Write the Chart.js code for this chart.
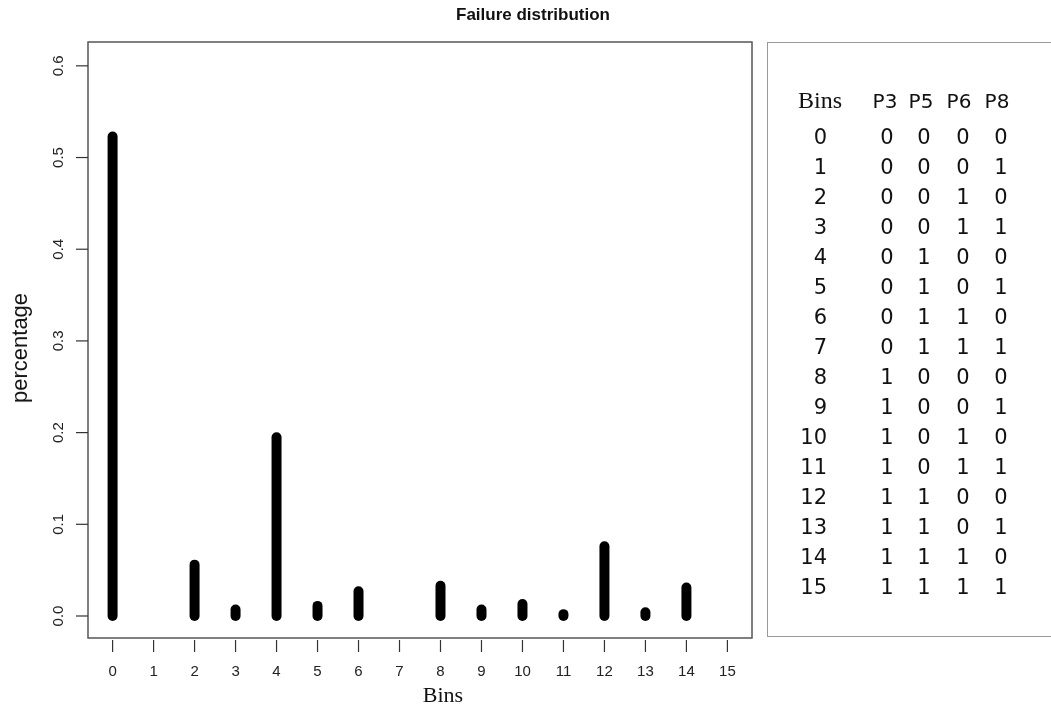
<!DOCTYPE html>
<html>
<head>
<meta charset="utf-8">
<script src="https://cdn.jsdelivr.net/npm/chart.js@4.4.1/dist/chart.umd.min.js"></script>
<style>
  html, body { margin: 0; padding: 0; background: #fff; overflow: hidden; }
  #wrap { position: relative; width: 1051px; height: 711px; }
  #c { position: absolute; left: 0; top: 0; }
  .t { position: absolute; white-space: nowrap; color: #111; }
  #title { left: 0; width: 1066px; top: 5px; text-align: center; font: bold 17px "Liberation Sans", Arial, sans-serif; }
  #xlab { left: 343px; width: 200px; top: 682px; text-align: center; font: 22px "Liberation Serif", serif; }
  #ylab { left: 20px; top: 348px; font: 22px "Liberation Sans", Arial, sans-serif; transform: translate(-50%, -50%) rotate(-90deg); }
  #box { position: absolute; left: 767px; top: 42px; width: 300px; height: 595px; border: 1.5px solid #999; box-sizing: border-box; }
  .hd { font: 24px "Liberation Serif", serif; line-height: 30px; }
  .hp { font: 20px "DejaVu Sans", sans-serif; line-height: 30px; }
  .cell { font: 21px "DejaVu Sans", sans-serif; line-height: 30px; }
</style>
</head>
<body>
<div id="wrap">
  <canvas id="c" width="1051" height="711"></canvas>
  <div id="title" class="t">Failure distribution</div>
  <div id="xlab" class="t">Bins</div>
  <div id="ylab" class="t">percentage</div>
  <div id="box"></div>
  <div id="table"></div>
</div>
<script>
// ---- data ----
const bins = [0, 1, 2, 3, 4, 5, 6, 7, 8, 9, 10, 11, 12, 13, 14, 15];
const percentage = [0.523, null, 0.056, 0.007, 0.195, 0.011, 0.027, null, 0.033, 0.007, 0.013, 0.002, 0.076, 0.004, 0.031, null];
const xTicks = [0, 1, 2, 3, 4, 5, 6, 7, 8, 9, 10, 11, 12, 13, 14, 15];
const yTicks = [0.0, 0.1, 0.2, 0.3, 0.4, 0.5, 0.6];
const yTickLabels = ["0.0", "0.1", "0.2", "0.3", "0.4", "0.5", "0.6"];
const tableHeaders = ["Bins", "P3", "P5", "P6", "P8"];
const colP3 = [0,0,0,0,0,0,0,0,1,1,1,1,1,1,1,1];
const colP5 = [0,0,0,0,1,1,1,1,0,0,0,0,1,1,1,1];
const colP6 = [0,0,1,1,0,0,1,1,0,0,1,1,0,0,1,1];
const colP8 = [0,1,0,1,0,1,0,1,0,1,0,1,0,1,0,1];

// ---- table (HTML text) ----
(function buildTable() {
  const t = document.getElementById('table');
  const headX = [820, 885, 921, 959, 997];
  const colX = [887, 924, 963, 1001];
  const add = (cls, txt, cx, cy, align) => {
    const d = document.createElement('div');
    d.className = 't ' + cls;
    d.textContent = txt;
    d.style.top = (cy - 15) + 'px';
    if (align === 'right') { d.style.left = (cx - 100) + 'px'; d.style.width = '100px'; d.style.textAlign = 'right'; }
    else { d.style.left = (cx - 50) + 'px'; d.style.width = '100px'; d.style.textAlign = 'center'; }
    t.appendChild(d);
  };
  add('hd', tableHeaders[0], headX[0], 100, 'center');
  for (let j = 1; j < tableHeaders.length; j++) add('hp', tableHeaders[j], headX[j], 101, 'center');
  const cols = [colP3, colP5, colP6, colP8];
  bins.forEach((b, i) => {
    const cy = 137 + 30 * i;
    add('cell', String(b), 827, cy, 'right');
    cols.forEach((c, j) => add('cell', String(c[i]), colX[j], cy, 'center'));
  });
})();

// ---- chart ----
const datasets = [];
bins.forEach((b, i) => {
  const v = percentage[i];
  if (v === null) return;
  datasets.push({
    data: [{ x: b, y: 0 }, { x: b, y: v }],
    borderColor: '#000',
    borderWidth: 10,
    borderCapStyle: 'round',
    pointRadius: 0,
    fill: false,
    tension: 0
  });
});

const rAxes = {
  id: 'rAxes',
  afterDraw(chart) {
    const ctx = chart.ctx;
    const a = chart.chartArea;
    const xs = chart.scales.x, ys = chart.scales.y;
    ctx.save();
    // box
    ctx.strokeStyle = '#555';
    ctx.lineWidth = 1.5;
    ctx.strokeRect(a.left, a.top, a.right - a.left, a.bottom - a.top);
    // y axis ticks + labels
    ctx.strokeStyle = '#333';
    ctx.lineWidth = 1.2;
    ctx.fillStyle = '#222';
    ctx.font = '15px "Liberation Sans", Arial, sans-serif';
    ctx.textAlign = 'center';
    ctx.textBaseline = 'middle';
    yTicks.forEach((v, i) => {
      const y = ys.getPixelForValue(v);
      ctx.beginPath(); ctx.moveTo(a.left, y); ctx.lineTo(a.left - 12, y); ctx.stroke();
      ctx.save();
      ctx.translate(59, y);
      ctx.rotate(-Math.PI / 2);
      ctx.fillText(yTickLabels[i], 0, 0);
      ctx.restore();
    });
    // x axis ticks + labels
    xTicks.forEach((v) => {
      const x = xs.getPixelForValue(v);
      ctx.beginPath(); ctx.moveTo(x, a.bottom + 2); ctx.lineTo(x, a.bottom + 14); ctx.stroke();
      ctx.fillText(String(v), x, 672);
    });
    ctx.restore();
  }
};

new Chart(document.getElementById('c'), {
  type: 'line',
  data: { datasets },
  options: {
    responsive: false,
    animation: false,
    events: [],
    layout: { padding: { left: 88, top: 42, right: 299, bottom: 73 } },
    plugins: { legend: { display: false }, tooltip: { enabled: false }, title: { display: false } },
    scales: {
      x: { type: 'linear', min: -0.6, max: 15.6, display: false },
      y: { type: 'linear', min: -0.024, max: 0.626, display: false }
    }
  },
  plugins: [rAxes]
});
</script>
</body>
</html>
